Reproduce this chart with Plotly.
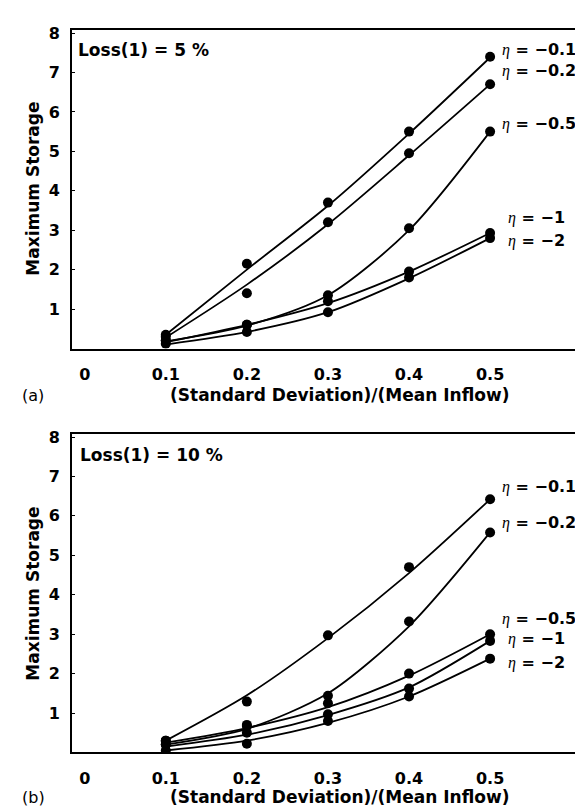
import plotly.graph_objects as go

# ---------------- data ----------------
x_vals = [0.1, 0.2, 0.3, 0.4, 0.5]
eta_labels = ["−0.1", "−0.2", "−0.5", "−1", "−2"]

# Panel (a): Loss(1) = 5 %  -- measured points
a_pts = {
    "−0.1": [0.35, 2.15, 3.70, 5.50, 7.40],
    "−0.2": [0.30, 1.40, 3.20, 4.95, 6.70],
    "−0.5": [0.20, 0.60, 1.35, 3.05, 5.50],
    "−1":   [0.20, 0.60, 1.20, 1.95, 2.93],
    "−2":   [0.12, 0.42, 0.92, 1.80, 2.80],
}
# Panel (a): fitted curves (read at each x)
a_fit = {
    "−0.1": [0.35, 2.00, 3.62, 5.45, 7.38],
    "−0.2": [0.28, 1.62, 3.15, 4.90, 6.70],
    "−0.5": [0.18, 0.58, 1.35, 3.00, 5.50],
    "−1":   [0.16, 0.60, 1.15, 1.95, 2.93],
    "−2":   [0.10, 0.42, 0.92, 1.78, 2.80],
}
a_label_y = [7.58, 7.04, 5.70, 3.33, 2.75]

# Panel (b): Loss(1) = 10 %
b_pts = {
    "−0.1": [0.30, 1.29, 2.97, 4.70, 6.42],
    "−0.2": [0.20, 0.67, 1.44, 3.32, 5.58],
    "−0.5": [0.30, 0.70, 1.25, 2.00, 3.00],
    "−1":   [0.20, 0.50, 0.97, 1.62, 2.83],
    "−2":   [0.05, 0.22, 0.80, 1.42, 2.38],
}
b_fit = {
    "−0.1": [0.30, 1.45, 2.90, 4.55, 6.42],
    "−0.2": [0.20, 0.60, 1.50, 3.20, 5.58],
    "−0.5": [0.25, 0.62, 1.15, 1.95, 3.00],
    "−1":   [0.15, 0.45, 0.95, 1.65, 2.83],
    "−2":   [0.05, 0.30, 0.75, 1.42, 2.38],
}
b_label_y = [6.75, 5.83, 3.39, 2.88, 2.29]

x_ticks = [0, 0.1, 0.2, 0.3, 0.4, 0.5]
x_ticktext = ["0", "0.1", "0.2", "0.3", "0.4", "0.5"]
y_ticks = [1, 2, 3, 4, 5, 6, 7, 8]

# ---------------- figure ----------------
W, H = 583, 809
FONT = "DejaVu Sans, Liberation Sans, Arial, sans-serif"

fig = go.Figure()

def add_panel(pts, fit, xa, ya):
    for k in eta_labels:
        fig.add_trace(go.Scatter(x=x_vals, y=fit[k], mode="lines",
                                 line=dict(color="black", width=1.8, shape="spline", smoothing=0.8),
                                 xaxis=xa, yaxis=ya, showlegend=False, hoverinfo="skip"))
        fig.add_trace(go.Scatter(x=x_vals, y=pts[k], mode="markers",
                                 marker=dict(color="black", size=10),
                                 xaxis=xa, yaxis=ya, showlegend=False))

add_panel(a_pts, a_fit, "x", "y")
add_panel(b_pts, b_fit, "x2", "y2")

px_l, px_r = 64, 581
dom_x = [px_l / W, px_r / W]
dom_a = [1 - 337 / H, 1 - 16 / H]
dom_b = [1 - 744 / H, 1 - 423 / H]

xr = [-0.0157, 0.622]
yr = [0, 8.08]

axis_common_x = dict(range=xr, tickvals=x_ticks, ticktext=x_ticktext, showgrid=False,
                     zeroline=False, showline=True, linecolor="black", linewidth=1.8,
                     mirror=True, ticks="", domain=dom_x, ticklabelstandoff=10,
                     tickfont=dict(family=FONT, size=16, color="black", weight="bold"))
axis_common_y = dict(range=yr, tickvals=y_ticks, showgrid=False, zeroline=False,
                     showline=True, linecolor="black", linewidth=1.8, mirror=True,
                     ticks="inside", ticklen=3, tickcolor="black", ticklabelstandoff=7,
                     tickfont=dict(family=FONT, size=16, color="black", weight="bold"))

fig.update_layout(
    width=W, height=H, margin=dict(l=0, r=0, t=0, b=0),
    paper_bgcolor="white", plot_bgcolor="white",
    xaxis=dict(**axis_common_x, anchor="y"),
    yaxis=dict(**axis_common_y, domain=dom_a, anchor="x"),
    xaxis2=dict(**axis_common_x, anchor="y2"),
    yaxis2=dict(**axis_common_y, domain=dom_b, anchor="x2"),
)

ann = []

def eta_text(v):
    return ("<span style='font-family:Liberation Serif, DejaVu Serif, serif'><i>η</i></span>"
            "<b> = " + v + "</b>")

for xa, ya, ly in (("x", "y", a_label_y), ("x2", "y2", b_label_y)):
    for k, yv in zip(eta_labels, ly):
        xo = 0.519 if k in ("−1", "−2") else 0.512
        ann.append(dict(x=xo, y=yv, xref=xa, yref=ya, text=eta_text(k), showarrow=False,
                        xanchor="left", yanchor="middle",
                        font=dict(family=FONT, size=16, color="black")))

# Loss labels
ann.append(dict(x=68 / W, y=1 - 36 / H, xref="paper", yref="paper", text="<b>Loss(1) = 5 %</b>",
                showarrow=False, xanchor="left", yanchor="middle",
                font=dict(family=FONT, size=17, color="black")))
ann.append(dict(x=70 / W, y=1 - 444 / H, xref="paper", yref="paper", text="<b>Loss(1) = 10 %</b>",
                showarrow=False, xanchor="left", yanchor="middle",
                font=dict(family=FONT, size=17, color="black")))

# axis titles
for yc in (384, 789):
    ann.append(dict(x=331 / W, y=1 - yc / H, xref="paper", yref="paper",
                    text="<b>(Standard Deviation)/(Mean Inflow)</b>", showarrow=False,
                    xanchor="center", yanchor="middle",
                    font=dict(family=FONT, size=17, color="black")))
for yc in (176, 584):
    ann.append(dict(x=25 / W, y=1 - yc / H, xref="paper", yref="paper",
                    text="<b>Maximum Storage</b>", showarrow=False, textangle=-90,
                    xanchor="center", yanchor="middle",
                    font=dict(family=FONT, size=17, color="black")))

# panel letters
ann.append(dict(x=12 / W, y=1 - 384 / H, xref="paper", yref="paper", text="(a)", showarrow=False,
                xanchor="left", yanchor="middle", font=dict(family=FONT, size=16, color="black")))
ann.append(dict(x=12 / W, y=1 - 789 / H, xref="paper", yref="paper", text="(b)", showarrow=False,
                xanchor="left", yanchor="middle", font=dict(family=FONT, size=16, color="black")))

fig.update_layout(annotations=ann)
fig.write_html("out.html")
